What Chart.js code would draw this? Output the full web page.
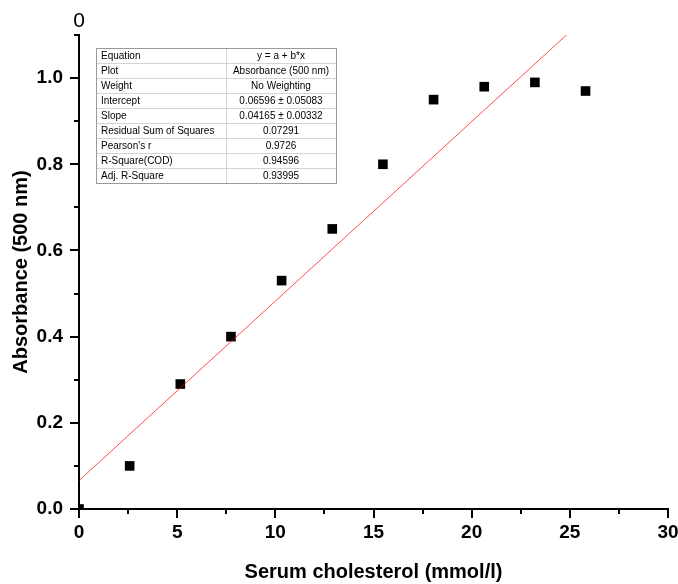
<!DOCTYPE html>
<html>
<head>
<meta charset="utf-8">
<script src="https://cdn.jsdelivr.net/npm/chart.js@4"></script>
<style>
  html, body { margin: 0; padding: 0; background: #fff; }
  #wrap { width: 678px; height: 584px; position: relative; }
</style>
</head>
<body>
<div id="wrap"><canvas id="c" width="678" height="584"></canvas></div>
<script>
// ---- data ----
const cholesterol = [0, 2.58, 5.16, 7.74, 10.32, 12.9, 15.48, 18.06, 20.64, 23.22, 25.8];
const absorbance  = [0, 0.10, 0.29, 0.40, 0.53, 0.65, 0.80, 0.95, 0.98, 0.99, 0.97];
const fitIntercept = 0.06596;
const fitSlope = 0.04165;
const fitRangeX = [0, 25.8];
const tableLabels = ['Equation', 'Plot', 'Weight', 'Intercept', 'Slope', 'Residual Sum of Squares', "Pearson's r", 'R-Square(COD)', 'Adj. R-Square'];
const tableValues = ['y = a + b*x', 'Absorbance (500 nm)', 'No Weighting', '0.06596 \u00b1 0.05083', '0.04165 \u00b1 0.00332', '0.07291', '0.9726', '0.94596', '0.93995'];
const xTitle = 'Serum cholesterol (mmol/l)';
const yTitle = 'Absorbance (500 nm)';
const topLabel = '0';

const points = cholesterol.map((x, i) => ({ x: x, y: absorbance[i] }));
const fitPoints = fitRangeX.map(x => ({ x: x, y: fitIntercept + fitSlope * x }));

const FONT = '"Liberation Sans", Arial, sans-serif';

const extrasPlugin = {
  id: 'extras',
  afterDraw(chart) {
    const ctx = chart.ctx;
    const xs = chart.scales.x, ys = chart.scales.y;
    const ca = chart.chartArea;
    ctx.save();
    // tick marks (major long, minor short)
    ctx.strokeStyle = '#000';
    ctx.lineWidth = 2;
    ctx.beginPath();
    ys.ticks.forEach(t => {
      const py = Math.round(ys.getPixelForValue(t.value));
      const major = Math.round(t.value * 10) % 2 === 0;
      const len = major ? 9 : 5;
      ctx.moveTo(ca.left, py);
      ctx.lineTo(ca.left - len, py);
    });
    xs.ticks.forEach(t => {
      const px = Math.round(xs.getPixelForValue(t.value));
      const major = Math.round(t.value * 2) % 2 === 0;
      const len = major ? 9 : 5;
      ctx.moveTo(px, ca.bottom);
      ctx.lineTo(px, ca.bottom + len);
    });
    ctx.stroke();

    // stray top label
    ctx.fillStyle = '#000';
    ctx.font = '21px ' + FONT;
    ctx.textAlign = 'center';
    ctx.textBaseline = 'middle';
    ctx.fillText(topLabel, ca.left, 21);

    // statistics table
    const tx = ca.left + 17, ty = ca.top + 13;
    const c1 = 130, c2 = 110, rh = 15;
    const w = c1 + c2, h = rh * tableLabels.length;
    ctx.fillStyle = '#fff';
    ctx.fillRect(tx, ty, w, h);
    ctx.lineWidth = 1;
    ctx.strokeStyle = '#d4d4d4';
    ctx.beginPath();
    for (let i = 1; i < tableLabels.length; i++) {
      ctx.moveTo(tx, ty + i * rh + 0.5);
      ctx.lineTo(tx + w, ty + i * rh + 0.5);
    }
    ctx.moveTo(tx + c1 + 0.5, ty);
    ctx.lineTo(tx + c1 + 0.5, ty + h);
    ctx.stroke();
    ctx.strokeStyle = '#9a9a9a';
    ctx.strokeRect(tx + 0.5, ty + 0.5, w, h);
    ctx.fillStyle = '#000';
    ctx.font = '10px ' + FONT;
    ctx.textBaseline = 'middle';
    tableLabels.forEach((lab, i) => {
      const cy = ty + i * rh + rh / 2 + 1;
      ctx.textAlign = 'left';
      ctx.fillText(lab, tx + 5, cy);
      ctx.textAlign = 'center';
      ctx.fillText(tableValues[i], tx + c1 + c2 / 2, cy);
    });
    ctx.restore();
  }
};

new Chart(document.getElementById('c'), {
  type: 'scatter',
  data: {
    datasets: [
      {
        type: 'line',
        data: fitPoints,
        borderColor: 'rgba(255,0,0,0.7)',
        borderWidth: 1,
        pointRadius: 0,
        fill: false,
        tension: 0
      },
      {
        data: points,
        pointStyle: 'rect',
        pointRadius: 6.8,
        pointHoverRadius: 6.8,
        backgroundColor: '#000',
        borderColor: '#000',
        borderWidth: 0
      }
    ]
  },
  options: {
    responsive: false,
    animation: false,
    events: [],
    layout: { padding: { left: 0, right: 10, top: 35, bottom: 0 } },
    plugins: { legend: { display: false }, tooltip: { enabled: false } },
    scales: {
      x: {
        type: 'linear',
        min: 0, max: 30,
        afterFit(s) { s.height = 75; s.paddingRight = 0; s.paddingLeft = 0; },
        border: { display: true, color: '#000', width: 2 },
        grid: { drawOnChartArea: false, drawTicks: false },
        ticks: {
          stepSize: 2.5,
          autoSkip: false,
          maxRotation: 0,
          padding: 12,
          color: '#000',
          font: { family: FONT, size: 19, weight: 'bold' },
          callback: v => (Math.round(v * 2) % 2 === 0 ? String(v) : '')
        },
        title: {
          display: true,
          text: xTitle,
          color: '#000',
          padding: { top: 0, bottom: 0 },
          font: { family: FONT, size: 20, weight: 'bold' }
        }
      },
      y: {
        type: 'linear',
        min: 0, max: 1.1,
        afterFit(s) { s.width = 79; s.paddingTop = 0; s.paddingBottom = 0; },
        border: { display: true, color: '#000', width: 2 },
        grid: { drawOnChartArea: false, drawTicks: false },
        ticks: {
          stepSize: 0.1,
          autoSkip: false,
          padding: 16,
          color: '#000',
          font: { family: FONT, size: 19, weight: 'bold' },
          callback: v => (Math.round(v * 10) % 2 === 0 ? v.toFixed(1) : '')
        },
        title: {
          display: true,
          text: yTitle,
          color: '#000',
          padding: { top: 9, bottom: 0 },
          font: { family: FONT, size: 20, weight: 'bold' }
        }
      }
    }
  },
  plugins: [extrasPlugin]
});
</script>
</body>
</html>
